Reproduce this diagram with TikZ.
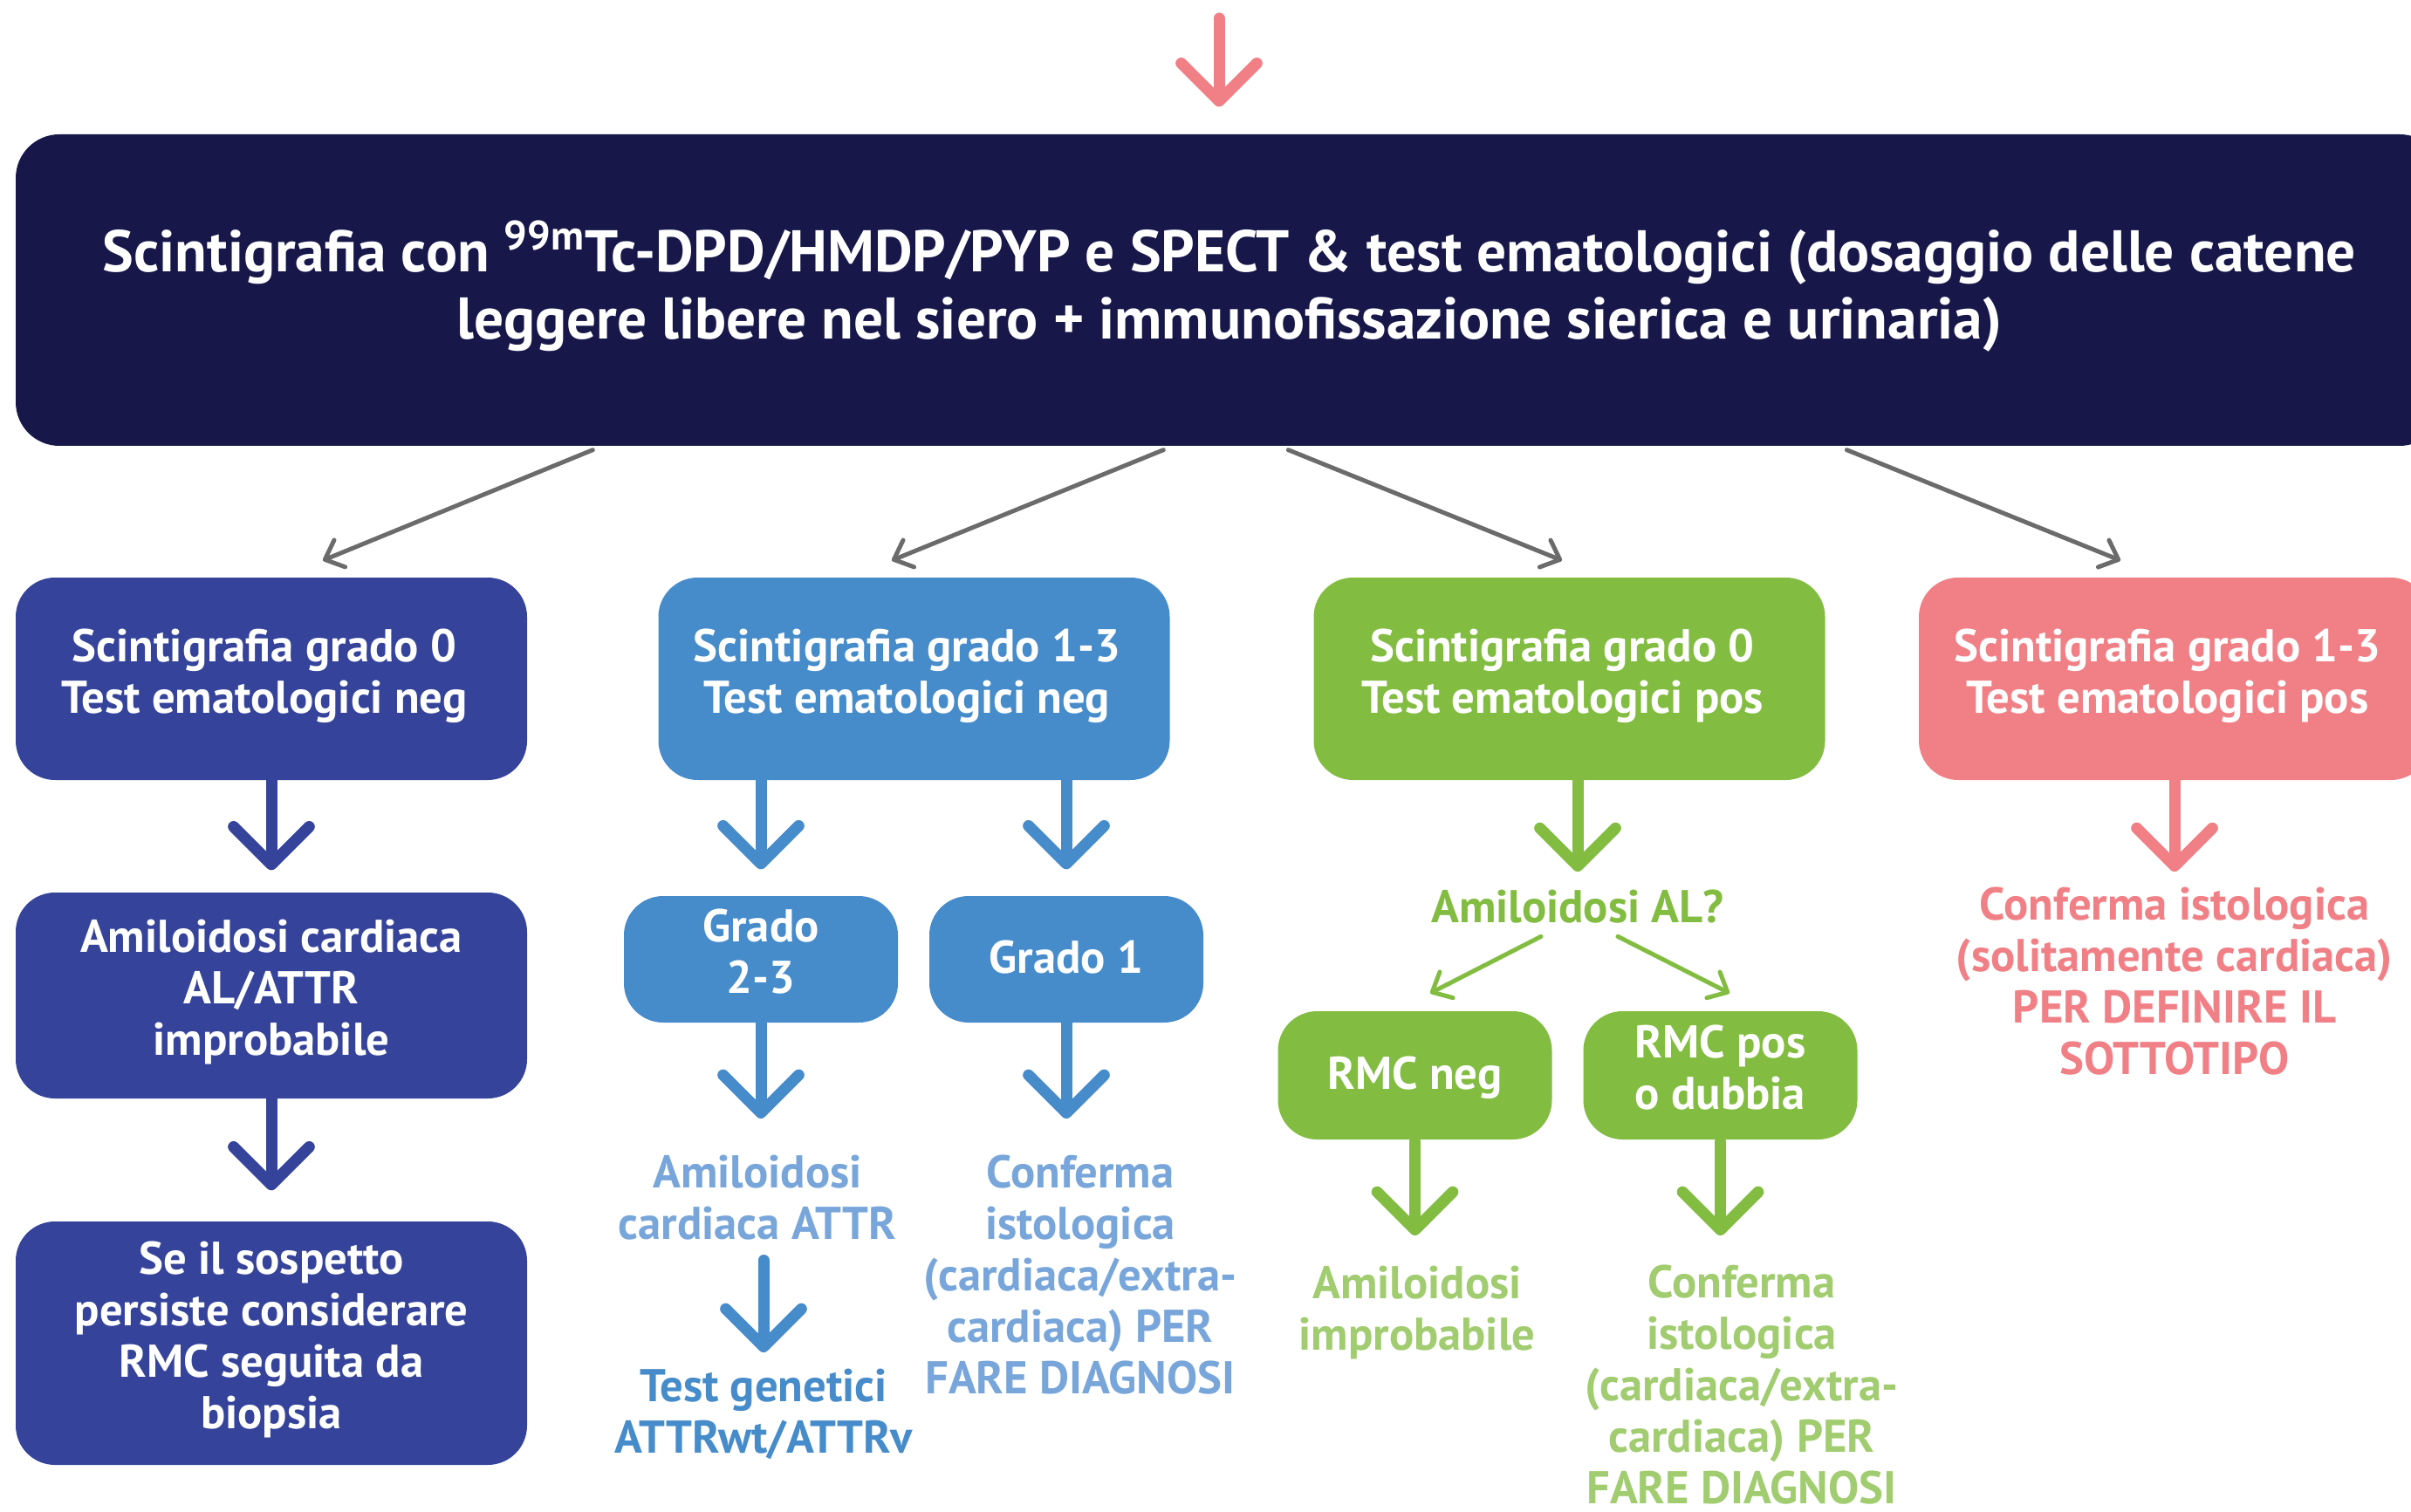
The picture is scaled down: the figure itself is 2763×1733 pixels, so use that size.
\documentclass[tikz,border=0pt]{standalone}
\usepackage{fontspec}
\setmainfont{PT Sans}
\usetikzlibrary{arrows.meta}
\definecolor{navy}{HTML}{17174A}
\definecolor{colA}{HTML}{35449A}
\definecolor{colB}{HTML}{468BCA}
\definecolor{colC}{HTML}{82BC41}
\definecolor{colD}{HTML}{F08086}
\definecolor{grayc}{HTML}{6B6B6B}
\definecolor{ltblue}{HTML}{78A6DA}
\definecolor{ltgreen}{HTML}{A1CC70}
\newcommand{\boxfont}{\fontsize{15.8}{17.7}\selectfont\bfseries}
\newcommand{\hdrfont}{\fontsize{20.2}{23.1}\selectfont\bfseries}
\newcommand{\padr}{\rule{4.8pt}{0pt}}
\tikzset{
  box/.style={rounded corners=13.5pt, align=center, text=white, font=\boxfont, inner sep=0pt,
    execute at begin node=\rule{0pt}{14.8pt}, execute at end node=\strut},
  bigbox/.style={box, minimum width=175.8pt, minimum height=69.6pt},
  smallbox/.style={box, minimum width=94.2pt, minimum height=44pt},
  lbl/.style={align=center, font=\boxfont, inner sep=0pt, anchor=north,
    execute at begin node=\strut, execute at end node=\strut},
  bigarrow/.style={draw=#1, line width=3.9pt, line cap=round,
    -{Straight Barb[length=13pt,width=26pt,round]}},
  thinarrow/.style={draw=#1, line width=1.5pt, line cap=round,
    -{Straight Barb[length=5.5pt,width=10pt,round]}}
}
\begin{document}
\begin{tikzpicture}[x=0.3pt,y=-0.3pt]
\useasboundingbox (0,0) rectangle (2763,1733);
\clip (0,0) rectangle (2763,1733);

% header
\node[box, fill=navy, font=\hdrfont, rounded corners=15pt, minimum width=834.6pt, minimum height=107.1pt,
  execute at begin node=\rule{0pt}{20.4pt}] (hdr) at (1409,332.5)
  {Scintigrafia con \textsuperscript{99m}Tc-DPD/HMDP/PYP e SPECT \& test ematologici (dosaggio delle catene\\leggere libere nel siero + immunofissazione sierica e urinaria)};
\coordinate (topstart) at (1397,21);
\draw[bigarrow=colD, shorten >=9.3pt] (topstart) -- (topstart |- hdr.north);

% row 1
\node[bigbox, fill=colA] (A) at (311,778) {Scintigrafia grado 0\padr\\Test ematologici neg\padr};
\node[bigbox, fill=colB] (B) at (1047.5,778) {Scintigrafia grado 1-3\padr\\Test ematologici neg\padr};
\node[bigbox, fill=colC] (C) at (1798.5,778) {Scintigrafia grado 0\padr\\Test ematologici pos\padr};
\node[bigbox, fill=colD] (D) at (2492,778) {Scintigrafia grado 1-3\padr\\Test ematologici pos\padr};

% gray arrows
\draw[thinarrow=grayc] ([xshift=198.6pt,yshift=-1.2pt]hdr.south west) -- ([xshift=17.7pt,yshift=5.7pt]A.north);
\draw[thinarrow=grayc] ([xshift=394.8pt,yshift=-1.2pt]hdr.south west) -- ([xshift=-7.65pt,yshift=5.7pt]B.north);
\draw[thinarrow=grayc] ([xshift=437.7pt,yshift=-1.2pt]hdr.south west) -- ([xshift=-2.55pt,yshift=5.7pt]C.north);
\draw[thinarrow=grayc] ([xshift=629.7pt,yshift=-1.2pt]hdr.south west) -- ([xshift=-18.6pt,yshift=5.7pt]D.north);

% column A
\node[bigbox, fill=colA, minimum height=70.8pt] (A2) at (311,1141) {Amiloidosi cardiaca\\AL/ATTR\\improbabile};
\node[bigbox, fill=colA, minimum height=83.7pt] (A3) at (311,1539.5) {Se il sospetto\\persiste considerare\\RMC seguita da\\biopsia};
\draw[bigarrow=colA, shorten >=7.5pt] (A.south) -- (A2.north);
\draw[bigarrow=colA, shorten >=10.5pt] (A2.south) -- (A3.north);

% column B
\node[smallbox, fill=colB, minimum height=43.5pt] (B1) at (872,1099.5) {Grado\\2-3};
\node[smallbox, fill=colB, minimum height=43.5pt] (B2) at (1222,1099.5) {Grado 1};
\draw[bigarrow=colB, shorten >=9pt] (B.south -| B1.north) -- (B1.north);
\draw[bigarrow=colB, shorten >=9pt] (B.south -| B2.north) -- (B2.north);
\node[lbl, text=ltblue] (tB1) at (868,1323.7) {Amiloidosi\\cardiaca ATTR};
\node[lbl, text=colB] (tB1b) at (875,1568.7) {Test genetici\\ATTRwt/ATTRv};
\node[lbl, text=ltblue] (tB2) at (1238,1323.7) {Conferma\\istologica\\(cardiaca/extra-\\cardiaca) PER\\FARE DIAGNOSI};
\draw[bigarrow=colB, shorten >=12.5pt] (B1.south) -- (B1.south |- tB1.north);
\draw[bigarrow=colB, shorten >=12.5pt] (B2.south) -- (B2.south |- tB2.north);
\draw[bigarrow=colB, shorten <=1.6pt, shorten >=5.6pt] (tB1b.north |- tB1.south) -- (tB1b.north);

% column C
\node[lbl, text=colC] (tC) at (1808,1015.7) {Amiloidosi AL?};
\draw[bigarrow=colC, shorten >=5pt] (C.south -| tC.north) -- (tC.north);
\node[smallbox, fill=colC, minimum height=44.1pt] (C1) at (1621.5,1232.5) {RMC neg};
\node[smallbox, fill=colC, minimum height=44.1pt] (C2) at (1971.5,1232.5) {RMC pos\\o dubbia};
\draw[thinarrow=colC] ([xshift=-12.6pt,yshift=0.8pt]tC.south) -- ([xshift=5.25pt,yshift=6pt]C1.north);
\draw[thinarrow=colC] ([xshift=13.8pt,yshift=0.8pt]tC.south) -- ([xshift=3.15pt,yshift=6pt]C2.north);
\node[lbl, text=ltgreen] (tC1) at (1624,1450.7) {Amiloidosi\\improbabile};
\node[lbl, text=ltgreen] (tC2) at (1996,1449.7) {Conferma\\istologica\\(cardiaca/extra-\\cardiaca) PER\\FARE DIAGNOSI};
\draw[bigarrow=colC, shorten <=0.6pt, shorten >=10.4pt] (C1.south) -- (C1.south |- tC1.north);
\draw[bigarrow=colC, shorten <=0.6pt, shorten >=10.1pt] (C2.south) -- (C2.south |- tC2.north);

% column D
\node[lbl, text=colD] (tD) at (2492,1016.7) {Conferma istologica\\(solitamente cardiaca)\\PER DEFINIRE IL\\SOTTOTIPO};
\draw[bigarrow=colD, shorten >=5.3pt] (D.south) -- (tD.north);
\end{tikzpicture}
\end{document}
